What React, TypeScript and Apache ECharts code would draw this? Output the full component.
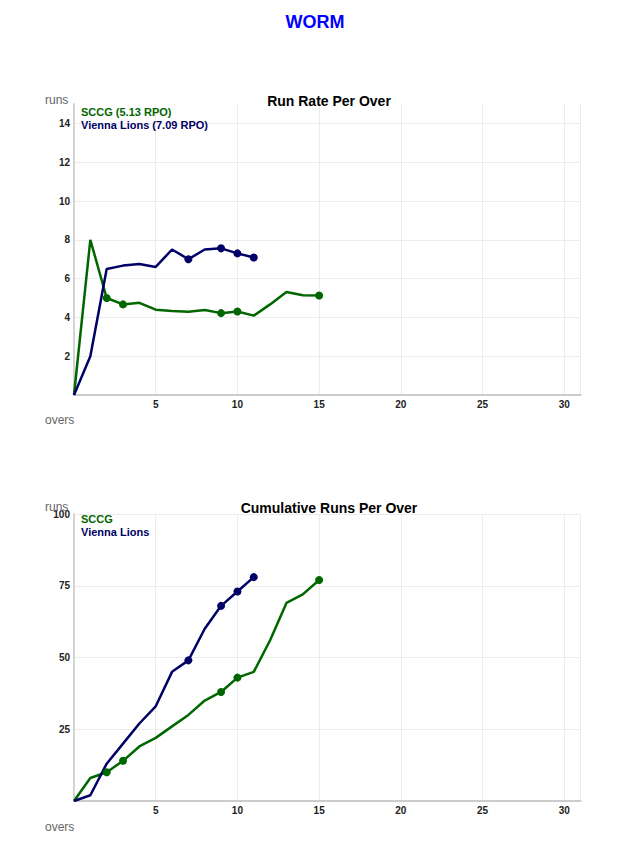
import React, { useEffect, useRef } from "react";
import * as echarts from "echarts";

const sccgOvers = [0, 1, 2, 3, 4, 5, 6, 7, 8, 9, 10, 11, 12, 13, 14, 15];
const sccgRate = [0, 8, 5, 4.67, 4.75, 4.4, 4.33, 4.29, 4.38, 4.22, 4.3, 4.09, 4.67, 5.31, 5.14, 5.13];
const sccgCum = [0, 8, 10, 14, 19, 22, 26, 30, 35, 38, 43, 45, 56, 69, 72, 77];
const sccgWickets = [2, 3, 9, 10, 15];

const viennaOvers = [0, 1, 2, 3, 4, 5, 6, 7, 8, 9, 10, 11];
const viennaRate = [0, 2, 6.5, 6.67, 6.75, 6.6, 7.5, 7.0, 7.5, 7.56, 7.3, 7.09];
const viennaCum = [0, 2, 13, 20, 27, 33, 45, 49, 60, 68, 73, 78];
const viennaWickets = [7, 9, 10, 11];

const teamNames = ["SCCG", "Vienna Lions"];
const teamRpo = ["5.13", "7.09"];
const chartTitles = ["Run Rate Per Over", "Cumulative Runs Per Over"];

const GREEN = "#006600";
const NAVY = "#000066";
const FONT = "'Liberation Sans', Arial, Helvetica, sans-serif";

function pairs(xs: number[], ys: number[]) {
  return xs.map((x, i) => [x, ys[i]]);
}
function wicketPts(xs: number[], ys: number[], w: number[]) {
  return w.map((o) => [o, ys[xs.indexOf(o)]]);
}

export default function App() {
  const ref = useRef<HTMLDivElement>(null);
  useEffect(() => {
    document.body.style.margin = "0";
    const chart = echarts.init(ref.current!, undefined, { renderer: "svg" });

    const xAxisBase = (gridIndex: number) => ({
      type: "value",
      gridIndex,
      min: 0,
      max: 31,
      interval: 5,
      axisLine: { show: true, lineStyle: { color: "#cccccc", width: 2 } },
      axisTick: { show: false },
      axisLabel: {
        showMinLabel: false,
        showMaxLabel: false,
        margin: 4,
        color: "#222",
        fontWeight: "bold",
        fontSize: 10,
        fontFamily: FONT,
      },
      splitLine: { show: true, lineStyle: { color: "#ececec", width: 1 } },
    });

    const lineS = (name: string, xi: number, data: number[][], color: string) => ({
      type: "line",
      name,
      xAxisIndex: xi,
      yAxisIndex: xi,
      data,
      symbol: "none",
      lineStyle: { color, width: 2.5 },
      itemStyle: { color },
      z: 2,
    });
    const dotS = (name: string, xi: number, data: number[][], color: string) => ({
      type: "scatter",
      name,
      xAxisIndex: xi,
      yAxisIndex: xi,
      data,
      symbol: "circle",
      symbolSize: 8,
      itemStyle: { color, opacity: 1 },
      z: 3,
    });

    const txt = (text: string, x: number, y: number, opts: any = {}) => ({
      type: "text",
      x,
      y,
      style: {
        text,
        fontFamily: FONT,
        fontSize: opts.fontSize ?? 12,
        fontWeight: opts.fontWeight ?? "normal",
        fill: opts.fill ?? "#000",
        textAlign: opts.align ?? "left",
        textVerticalAlign: "middle",
      },
      z: 10,
    });

    chart.setOption({
      animation: false,
      grid: [
        { left: 74, top: 104, width: 506.6, height: 291 },
        { left: 74, top: 514, width: 506.6, height: 287 },
      ],
      xAxis: [xAxisBase(0), xAxisBase(1)],
      yAxis: [
        {
          type: "value",
          gridIndex: 0,
          min: 0,
          max: 15,
          interval: 2,
          axisLine: { show: true, lineStyle: { color: "#d4d4d4", width: 2 } },
          axisTick: { show: false },
          axisLabel: {
            showMinLabel: false,
            showMaxLabel: false,
            margin: 4,
            color: "#222",
            fontWeight: "bold",
            fontSize: 10,
            fontFamily: FONT,
          },
          splitLine: {
            show: true,
            lineStyle: {
              color: ["#ececec", "#ececec", "#ececec", "#ececec", "#ececec", "#ececec", "#ececec", "#ececec", "rgba(0,0,0,0)"],
              width: 1,
            },
          },
        },
        {
          type: "value",
          gridIndex: 1,
          min: 0,
          max: 100,
          interval: 25,
          axisLine: { show: true, lineStyle: { color: "#d4d4d4", width: 2 } },
          axisTick: { show: false },
          axisLabel: {
            showMinLabel: false,
            margin: 4,
            color: "#222",
            fontWeight: "bold",
            fontSize: 10,
            fontFamily: FONT,
          },
          splitLine: { show: true, lineStyle: { color: "#ececec", width: 1 } },
        },
      ],
      series: [
        lineS(teamNames[0], 0, pairs(sccgOvers, sccgRate), GREEN),
        lineS(teamNames[1], 0, pairs(viennaOvers, viennaRate), NAVY),
        dotS(teamNames[0] + " wickets", 0, wicketPts(sccgOvers, sccgRate, sccgWickets), GREEN),
        dotS(teamNames[1] + " wickets", 0, wicketPts(viennaOvers, viennaRate, viennaWickets), NAVY),
        lineS(teamNames[0], 1, pairs(sccgOvers, sccgCum), GREEN),
        lineS(teamNames[1], 1, pairs(viennaOvers, viennaCum), NAVY),
        dotS(teamNames[0] + " wickets", 1, wicketPts(sccgOvers, sccgCum, sccgWickets), GREEN),
        dotS(teamNames[1] + " wickets", 1, wicketPts(viennaOvers, viennaCum, viennaWickets), NAVY),
      ],
      graphic: [
        txt("WORM", 315, 22, { fontSize: 18, fontWeight: "bold", fill: "#0000ff", align: "center" }),
        txt(chartTitles[0], 329, 101, { fontSize: 14, fontWeight: "bold", align: "center" }),
        txt(chartTitles[1], 329, 508, { fontSize: 14, fontWeight: "bold", align: "center" }),
        txt("runs", 45, 100, { fill: "#666" }),
        txt("overs", 45, 420, { fill: "#666" }),
        txt("runs", 45, 507, { fill: "#666" }),
        txt("overs", 45, 827, { fill: "#666" }),
        txt(`${teamNames[0]} (${teamRpo[0]} RPO)`, 81, 112, { fontSize: 11, fontWeight: "bold", fill: GREEN }),
        txt(`${teamNames[1]} (${teamRpo[1]} RPO)`, 81, 125, { fontSize: 11, fontWeight: "bold", fill: NAVY }),
        txt(teamNames[0], 81, 519, { fontSize: 11, fontWeight: "bold", fill: GREEN }),
        txt(teamNames[1], 81, 532, { fontSize: 11, fontWeight: "bold", fill: NAVY }),
      ],
    });
    return () => chart.dispose();
  }, []);
  return <div ref={ref} style={{ width: 635, height: 844 }} />;
}
